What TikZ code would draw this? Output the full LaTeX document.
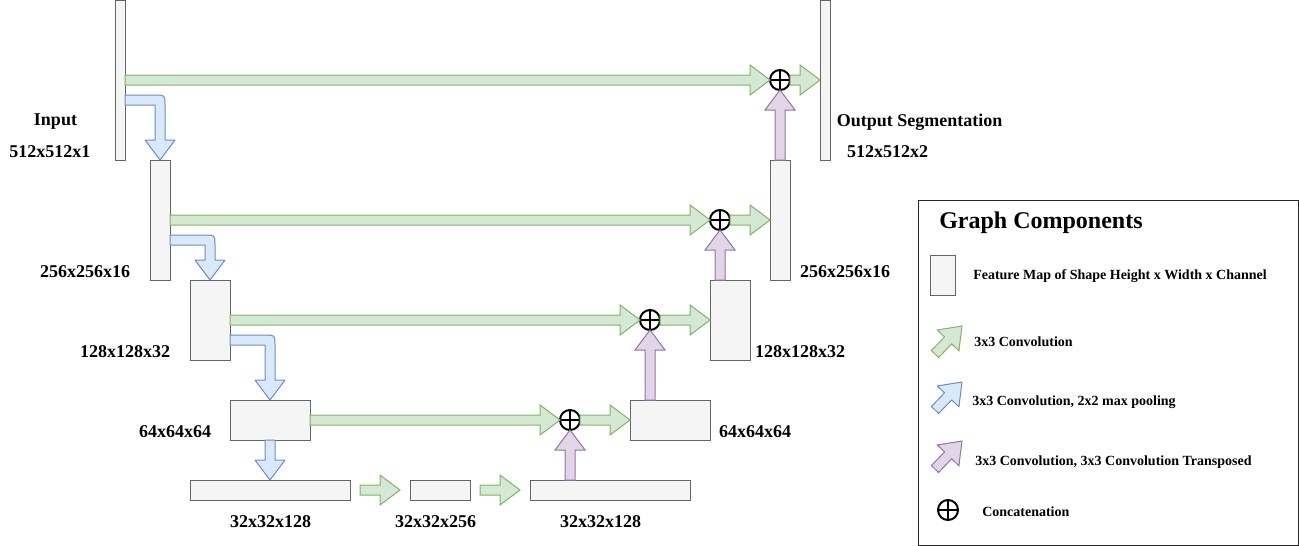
\documentclass[tikz,border=0pt]{standalone}
\usepackage{fontspec}
\setmainfont{Liberation Serif}
\usetikzlibrary{calc}

\definecolor{boxfill}{HTML}{F5F5F5}
\definecolor{boxline}{HTML}{666666}
\definecolor{gfill}{HTML}{D5E8D4}
\definecolor{gline}{HTML}{82B366}
\definecolor{bfill}{HTML}{DAE8FC}
\definecolor{bline}{HTML}{6C8EBF}
\definecolor{pfill}{HTML}{E1D5E7}
\definecolor{pline}{HTML}{9673A6}

\tikzset{
  fmap/.style 2 args={draw=boxline, fill=boxfill, line width=0.75pt,
    inner sep=0pt, outer sep=0pt,
    minimum width=#1*0.75pt, minimum height=#2*0.75pt},
  catnode/.style={circle, draw=black, line width=1.5pt, fill=white,
    minimum size=15pt, inner sep=0pt, outer sep=0pt,
    path picture={
      \draw[line width=1.1pt] (path picture bounding box.north) -- (path picture bounding box.south);
      \draw[line width=1.1pt] (path picture bounding box.west) -- (path picture bounding box.east);}},
  conv/.style={draw=gline, fill=gfill, line width=0.75pt, line join=miter},
  pool/.style={draw=bline, fill=bfill, line width=0.75pt, line join=round},
  upconv/.style={draw=pline, fill=pfill, line width=0.75pt, line join=miter},
  lbl/.style={font=\fontsize{13.5}{16}\selectfont\bfseries, inner sep=0pt, yshift=-0.6pt},
  legtext/.style={font=\fontsize{10.5}{12}\selectfont\bfseries, inner sep=0pt, anchor=west, yshift=-0.6pt},
}

% wide arrow with a triangular head: #1 style, #2 tail, #3 tip
\newcommand\flexarrow[3]{%
  \coordinate (fabase) at ($(#3)!15pt!(#2)$);
  \draw[#1] ($(#2)!3.75pt!90:(#3)$) -- ($(fabase)!3.75pt!-90:(#2)$)
    -- ($(fabase)!11.25pt!-90:(#2)$) -- (#3)
    -- ($(fabase)!11.25pt!90:(#2)$) -- ($(fabase)!3.75pt!90:(#2)$)
    -- ($(#2)!3.75pt!-90:(#3)$) -- cycle;}

% pooling arrow: right from #1, then down onto #2
\newcommand\elbowarrow[2]{%
  \draw[pool] let \p1=(#1), \p2=(#2) in
    (\x1,\y1+3.75pt) -- (\x2-3.75pt,\y1+3.75pt)
    .. controls (\x2+3.75pt,\y1+3.75pt) .. (\x2+3.75pt,\y1-3.75pt)
    -- (\x2+3.75pt,\y2+15pt) -- (\x2+11.25pt,\y2+15pt) -- (\x2,\y2)
    -- (\x2-11.25pt,\y2+15pt) -- (\x2-3.75pt,\y2+15pt)
    -- (\x2-3.75pt,\y1-3.75pt) -- (\x1,\y1-3.75pt) -- cycle;}

\begin{document}
\begin{tikzpicture}[x=0.75pt, y=-0.75pt]
\useasboundingbox (0,0) rectangle (1299,546);

% encoder feature maps
\node[fmap={10}{160}] (in) at (120,80) {};
\node[fmap={20}{120}] (e1) at (160,220) {};
\node[fmap={40}{80}]  (e2) at (210,320) {};
\node[fmap={80}{40}]  (e3) at (270,420) {};
% bottleneck
\node[fmap={160}{20}] (b1) at (270,490) {};
\node[fmap={60}{20}]  (b2) at (440,490) {};
\node[fmap={160}{20}] (b3) at (610,490) {};
% decoder feature maps
\node[fmap={80}{40}]  (d3) at (670,420) {};
\node[fmap={40}{80}]  (d2) at (730,320) {};
\node[fmap={20}{120}] (d1) at (780,220) {};
\node[fmap={10}{160}] (out) at (825,80) {};

% concatenation points
\node[catnode] (c0) at (780,80) {};
\node[catnode] (c1) at (720,220) {};
\node[catnode] (c2) at (650,320) {};
\node[catnode] (c3) at (570,420) {};

% skip connections
\coordinate (s0) at (in.east |- c0);
\coordinate (s1) at (e1.east |- c1);
\coordinate (s2) at (e2.east |- c2);
\coordinate (s3) at (e3.east |- c3);
\flexarrow{conv}{s0}{c0.west}
\flexarrow{conv}{s1}{c1.west}
\flexarrow{conv}{s2}{c2.west}
\flexarrow{conv}{s3}{c3.west}

% concatenation into decoder maps
\coordinate (t0) at (out.west |- c0);
\coordinate (t1) at (d1.west |- c1);
\coordinate (t2) at (d2.west |- c2);
\coordinate (t3) at (d3.west |- c3);
\flexarrow{conv}{c0.east}{t0}
\flexarrow{conv}{c1.east}{t1}
\flexarrow{conv}{c2.east}{t2}
\flexarrow{conv}{c3.east}{t3}

% upsampling arrows
\coordinate (u0) at (c0 |- d1.north);
\coordinate (u1) at (c1 |- d2.north);
\coordinate (u2) at (c2 |- d3.north);
\coordinate (u3) at (c3 |- b3.north);
\flexarrow{upconv}{u0}{c0.south}
\flexarrow{upconv}{u1}{c1.south}
\flexarrow{upconv}{u2}{c2.south}
\flexarrow{upconv}{u3}{c3.south}

% pooling arrows
\coordinate (p0) at ($(in.north east)+(0,100)$);
\coordinate (p1) at ($(e1.north east)+(0,80)$);
\coordinate (p2) at ($(e2.north east)+(0,60)$);
\elbowarrow{p0}{e1.north}
\elbowarrow{p1}{e2.north}
\elbowarrow{p2}{e3.north}
\flexarrow{pool}{e3.south}{b1.north}

% bottleneck convolutions
\coordinate (k1) at ($(b1.east)+(10,0)$);
\coordinate (k2) at ($(b2.west)+(-10,0)$);
\coordinate (k3) at ($(b2.east)+(10,0)$);
\coordinate (k4) at ($(b3.west)+(-10,0)$);
\flexarrow{conv}{k1}{k2}
\flexarrow{conv}{k3}{k4}

% shape labels
\node[lbl] (lin) at (55.5,121) {Input};
\node[lbl] (lins) at (50,151) {512x512x1};
\node[lbl] (lout) at (919.5,121) {Output Segmentation};
\node[lbl] (louts) at (887.5,151) {512x512x2};
\node[lbl] (le1) at (85,271) {256x256x16};
\node[lbl] (le2) at (125,351) {128x128x32};
\node[lbl] (le3) at (175,431) {64x64x64};
\node[lbl] (ld1) at (845,271) {256x256x16};
\node[lbl] (ld2) at (800,351) {128x128x32};
\node[lbl] (ld3) at (755,431) {64x64x64};
\node[lbl] (lb1) at (270.5,521) {32x32x128};
\node[lbl] (lb2) at (435.5,521) {32x32x256};
\node[lbl] (lb3) at (600.5,521) {32x32x128};

% legend
\draw[line width=0.75pt, draw=black!85] (918,200) rectangle (1298,545);
\node[font=\fontsize{18}{20}\selectfont\bfseries, inner sep=0pt, anchor=west, yshift=-1pt] (ltitle) at (939,221) {Graph Components};
\node[fmap={25}{40}] (lfm) at (942.5,275) {};
\node[legtext] (tfm) at (973,275) {Feature Map of Shape Height x Width x Channel};
\coordinate (ga) at (935,354);
\coordinate (gb) at (962,326);
\flexarrow{conv}{ga}{gb}
\node[legtext] (tconv) at (974,341) {3x3 Convolution};
\coordinate (ba) at (935,410);
\coordinate (bb) at (962,382);
\flexarrow{pool}{ba}{bb}
\node[legtext] (tpool) at (972,401) {3x3 Convolution, 2x2 max pooling};
\coordinate (pa) at (935,469);
\coordinate (pb) at (962,441);
\flexarrow{upconv}{pa}{pb}
\node[legtext] (tup) at (975,461) {3x3 Convolution, 3x3 Convolution Transposed};
\node[catnode] (lcat) at (948,510) {};
\node[legtext] (tcat) at (982,511) {Concatenation};
\end{tikzpicture}
\end{document}
